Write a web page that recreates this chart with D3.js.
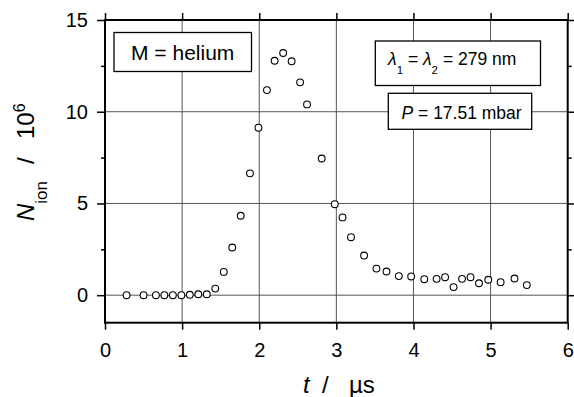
<!DOCTYPE html>
<html>
<head>
<meta charset="utf-8">
<script src="https://cdn.jsdelivr.net/npm/d3@7/dist/d3.min.js"></script>
<style>
  body { margin: 0; background: #fff; }
  svg { display: block; font-family: "Liberation Sans", Arial, sans-serif; }
</style>
</head>
<body>
<svg id="chart" width="574" height="397"></svg>
<script>
// ---- data ----
const timeUs = [0.28,0.50,0.66,0.77,0.88,0.99,1.10,1.21,1.32,1.43,1.54,1.65,1.76,1.88,1.99,
                2.10,2.20,2.31,2.42,2.53,2.62,2.81,2.98,3.08,3.19,3.36,3.52,3.65,3.81,3.97,
                4.14,4.30,4.41,4.52,4.63,4.74,4.85,4.97,5.13,5.31,5.47];
const nIon = [0,0,0,0,0,0,0.02,0.05,0.05,0.36,1.27,2.6,4.33,6.64,9.13,
              11.18,12.78,13.2,12.75,11.6,10.4,7.45,4.96,4.24,3.16,2.16,1.45,1.29,1.04,1.02,
              0.87,0.89,0.98,0.44,0.89,0.98,0.65,0.84,0.71,0.91,0.55];
const xTicks = [0,1,2,3,4,5,6];
const yTicks = [0,5,10,15];
const yMinorTicks = [2.5,7.5,12.5];
const xGrid = [1,2,3,4,5];
const yGrid = [0,5,10];

const svg = d3.select("#chart");
const L = 105, R = 567.7, T = 20, B = 322.7;
const x = d3.scaleLinear().domain([0,6]).range([L,R]);
const y = d3.scaleLinear().domain([-1.5,15]).range([B,T]);

// grid
svg.append("g").selectAll("line").data(xGrid).join("line")
  .attr("x1", d => x(d)).attr("x2", d => x(d)).attr("y1", T).attr("y2", B)
  .attr("stroke", "#555").attr("stroke-width", 1);
svg.append("g").selectAll("line").data(yGrid).join("line")
  .attr("y1", d => y(d)).attr("y2", d => y(d)).attr("x1", L).attr("x2", R)
  .attr("stroke", "#555").attr("stroke-width", 1);

// axes
const axStyle = g => {
  g.select(".domain").remove();
  g.selectAll(".tick line").attr("stroke", "#000").attr("stroke-width", 1.5);
  g.selectAll(".tick text").attr("font-size", 20).attr("fill", "#000")
    .attr("font-family", "Liberation Sans, Arial, sans-serif");
};
svg.append("g").attr("transform", `translate(0,${B})`)
  .call(d3.axisBottom(x).tickValues(xTicks).tickFormat(d3.format("d")).tickSize(7).tickPadding(13))
  .call(axStyle);
svg.append("g").attr("transform", `translate(0,${T})`)
  .call(d3.axisTop(x).tickValues(xTicks).tickFormat("").tickSize(7))
  .call(axStyle);
svg.append("g").attr("transform", `translate(${L},0)`)
  .call(d3.axisLeft(y).tickValues(yTicks).tickFormat(d3.format("d")).tickSize(8).tickPadding(9))
  .call(axStyle);
svg.append("g").attr("transform", `translate(${L},0)`)
  .call(d3.axisLeft(y).tickValues(yMinorTicks).tickFormat("").tickSize(4))
  .call(axStyle);
svg.append("g").attr("transform", `translate(${R},0)`)
  .call(d3.axisRight(y).tickValues(yTicks).tickFormat("").tickSize(7))
  .call(axStyle);
svg.append("g").attr("transform", `translate(${R},0)`)
  .call(d3.axisRight(y).tickValues(yMinorTicks).tickFormat("").tickSize(4))
  .call(axStyle);

// frame
svg.append("rect").attr("x", L).attr("y", T).attr("width", R - L).attr("height", B - T)
  .attr("fill", "none").attr("stroke", "#000").attr("stroke-width", 2);

// points
svg.append("g").selectAll("circle").data(timeUs.map((t,i) => [t, nIon[i]])).join("circle")
  .attr("cx", d => x(d[0])).attr("cy", d => y(d[1])).attr("r", 3.4)
  .attr("fill", "#fff").attr("stroke", "#000").attr("stroke-width", 1.1);

// boxes
function box(x0, y0, w, h) {
  svg.append("rect").attr("x", x0).attr("y", y0).attr("width", w).attr("height", h)
    .attr("fill", "#fff").attr("stroke", "#000").attr("stroke-width", 1.3);
}
box(114, 32.5, 137.5, 39);
svg.append("text").attr("x", 182.7).attr("y", 59.5).attr("text-anchor", "middle")
  .attr("font-size", 21).text("M = helium");

box(375.3, 41, 165.2, 44.5);
const lam = svg.append("text").attr("x", 388).attr("y", 65).attr("font-size", 17.5);
lam.append("tspan").attr("font-style", "italic").text("λ");
lam.append("tspan").attr("font-size", 11.5).attr("dy", 9).text("1");
lam.append("tspan").attr("dy", -9).text(" = ");
lam.append("tspan").attr("font-style", "italic").text("λ");
lam.append("tspan").attr("font-size", 11.5).attr("dy", 9).text("2");
lam.append("tspan").attr("dy", -9).text(" = 279 nm");

box(388.3, 93.3, 143.4, 36);
const pt = svg.append("text").attr("x", 401.5).attr("y", 118.5).attr("font-size", 17.5);
pt.append("tspan").attr("font-style", "italic").text("P");
pt.append("tspan").text(" = 17.51 mbar");

// x axis title
const xt = svg.append("text").attr("x", 303).attr("y", 393).attr("font-size", 24);
xt.append("tspan").attr("font-style", "italic").text("t");
xt.append("tspan").attr("x", 322).text("/");
xt.append("tspan").attr("x", 349).text("µs");

// y axis title
const yg = svg.append("g").attr("transform", "translate(34,0) rotate(-90)");
const yt = yg.append("text").attr("x", -221).attr("y", 0).attr("font-size", 24);
yt.append("tspan").attr("font-style", "italic").text("N");
yt.append("tspan").attr("font-size", 17).attr("dy", 13).text("ion");
yt.append("tspan").attr("x", -164).attr("dy", -13).text("/");
yt.append("tspan").attr("x", -139).text("10");
yt.append("tspan").attr("font-size", 16).attr("dy", -9).text("6");
</script>
</body>
</html>
